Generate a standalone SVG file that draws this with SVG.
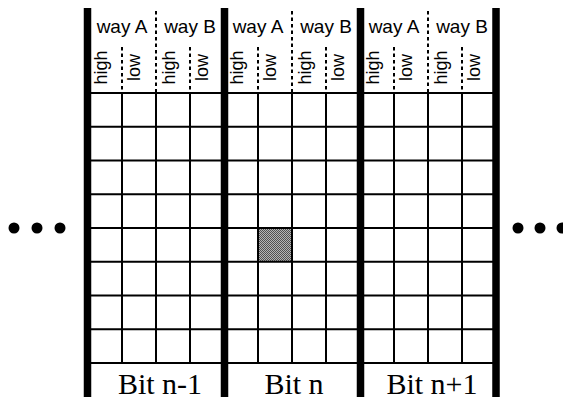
<svg xmlns="http://www.w3.org/2000/svg" width="563" height="400" viewBox="0 0 563 400">
<defs>
<style>
.grid{stroke:#000;stroke-width:2;fill:none}
.bar{stroke:#000;stroke-width:7.5}
.dash{stroke:#000;stroke-width:2;stroke-dasharray:3.5 3}
.way{font-family:"Liberation Sans",Arial,sans-serif;font-size:19px;text-anchor:middle;fill:#000}
.hl{font-family:"Liberation Sans",Arial,sans-serif;font-size:18px;text-anchor:middle;fill:#000}
.bit{font-family:"Liberation Serif","Times New Roman",serif;font-size:30px;text-anchor:middle;fill:#000}
.dot{fill:#000}
</style>
<pattern id="stip" width="2" height="2" patternUnits="userSpaceOnUse">
<rect width="2" height="2" fill="#b4b4b4"/>
<rect width="1" height="1" fill="#505050"/>
<rect x="1" y="1" width="1" height="1" fill="#505050"/>
</pattern>
</defs>
<rect width="563" height="400" fill="#fff"/>
<g id="shaded-cell">
<rect x="258" y="228" width="34" height="33.75" fill="url(#stip)"/>
</g>
<g id="grid">
<path class="grid" d="M88 93H496M88 126.75H496M88 160.5H496M88 194.25H496M88 228H496M88 261.75H496M88 295.5H496M88 329.25H496M88 363H496"/>
<path class="grid" d="M122 93V363M156 93V363M190 93V363M258 93V363M292 93V363M326 93V363M394 93V363M428 93V363M462 93V363"/>
<path class="dash" d="M156 11V93M292 11V93M428 11V93M122 47V93M190 47V93M258 47V93M326 47V93M394 47V93M462 47V93"/>
</g>
<g id="bars">
<path class="bar" d="M87.5 8V397M224.5 8V397M360.5 8V397M496 8V397"/>
</g>
<g id="panel-bit-n-1">
<text class="way" x="122" y="33">way A</text>
<text class="way" x="190" y="33">way B</text>
<text class="hl" transform="translate(107 67.5) rotate(-90)">high</text>
<text class="hl" transform="translate(140 67.5) rotate(-90)">low</text>
<text class="hl" transform="translate(175 67.5) rotate(-90)">high</text>
<text class="hl" transform="translate(208 67.5) rotate(-90)">low</text>
<text class="bit" x="160" y="394">Bit n-1</text>
</g>
<g id="panel-bit-n">
<text class="way" x="258" y="33">way A</text>
<text class="way" x="326" y="33">way B</text>
<text class="hl" transform="translate(243 67.5) rotate(-90)">high</text>
<text class="hl" transform="translate(276 67.5) rotate(-90)">low</text>
<text class="hl" transform="translate(311 67.5) rotate(-90)">high</text>
<text class="hl" transform="translate(344 67.5) rotate(-90)">low</text>
<text class="bit" x="294" y="394">Bit n</text>
</g>
<g id="panel-bit-n-plus-1">
<text class="way" x="394" y="33">way A</text>
<text class="way" x="462" y="33">way B</text>
<text class="hl" transform="translate(379 67.5) rotate(-90)">high</text>
<text class="hl" transform="translate(412 67.5) rotate(-90)">low</text>
<text class="hl" transform="translate(447 67.5) rotate(-90)">high</text>
<text class="hl" transform="translate(480 67.5) rotate(-90)">low</text>
<text class="bit" x="432" y="394">Bit n+1</text>
</g>
<g id="ellipsis-left">
<circle class="dot" cx="14" cy="228" r="5.5"/>
<circle class="dot" cx="37" cy="228" r="5.5"/>
<circle class="dot" cx="60" cy="228" r="5.5"/>
</g>
<g id="ellipsis-right">
<circle class="dot" cx="518" cy="228" r="5.5"/>
<circle class="dot" cx="540" cy="228" r="5.5"/>
<circle class="dot" cx="562" cy="228" r="5.5"/>
</g>
</svg>
